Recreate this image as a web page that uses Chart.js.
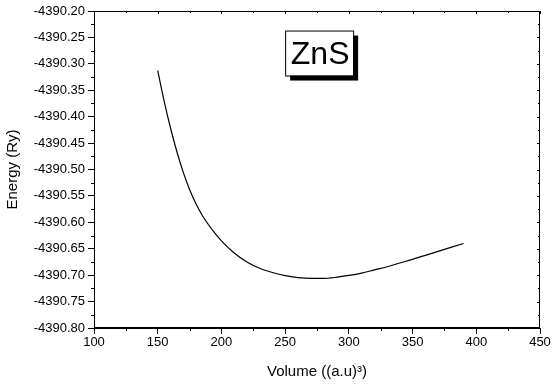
<!DOCTYPE html>
<html>
<head>
<meta charset="utf-8">
<script src="https://cdn.jsdelivr.net/npm/chart.js@4"></script>
<style>
  html, body { margin: 0; padding: 0; background: #fff; }
  #wrap { width: 555px; height: 385px; position: relative; }
</style>
</head>
<body>
<div id="wrap"><canvas id="eos-chart"></canvas></div>
<script>
/* E(V) curve for ZnS */
const volumes  = [150, 155, 160, 165, 170, 175, 180, 185, 190, 195, 200, 210, 220, 230, 240, 250,
                  260, 270, 280, 290, 300, 310, 320, 330, 340, 350, 360, 370, 380, 390];
const energies = [-4390.313, -4390.370, -4390.421, -4390.466, -4390.505, -4390.538, -4390.565, -4390.587,
                  -4390.605, -4390.621, -4390.635, -4390.658, -4390.675, -4390.687, -4390.695, -4390.701,
                  -4390.7045, -4390.706, -4390.706, -4390.704, -4390.7005, -4390.696, -4390.690, -4390.684,
                  -4390.677, -4390.670, -4390.6625, -4390.655, -4390.6475, -4390.640];
const xTicks = [100, 150, 200, 250, 300, 350, 400, 450];
const yTicks = [-4390.80, -4390.75, -4390.70, -4390.65, -4390.60, -4390.55, -4390.50,
                -4390.45, -4390.40, -4390.35, -4390.30, -4390.25, -4390.20];
const label  = 'ZnS';

const FONT = "Arial, 'Liberation Sans', sans-serif";

// frame on top/right, minor ticks, and the boxed label with drop shadow
const frameAndLabel = {
  id: 'frameAndLabel',
  afterDraw(chart) {
    const { ctx, chartArea: a, scales: { x, y } } = chart;
    ctx.save();
    ctx.strokeStyle = '#000';
    ctx.lineWidth = 1;
    ctx.strokeRect(a.left + 0.5, a.top + 0.5, a.right - a.left - 1, a.bottom - a.top - 1);

    ctx.beginPath();
    for (let i = 0; i < xTicks.length - 1; i++) {
      const px = Math.round(x.getPixelForValue((xTicks[i] + xTicks[i + 1]) / 2)) + 0.5;
      ctx.moveTo(px, a.bottom); ctx.lineTo(px, a.bottom + 3);
      ctx.moveTo(px, a.top);    ctx.lineTo(px, a.top + 2);
    }
    xTicks.forEach(v => {
      const px = Math.round(x.getPixelForValue(v)) + 0.5;
      ctx.moveTo(px, a.top); ctx.lineTo(px, a.top + 3);
    });
    for (let i = 0; i < yTicks.length - 1; i++) {
      const py = Math.round(y.getPixelForValue((yTicks[i] + yTicks[i + 1]) / 2)) + 0.5;
      ctx.moveTo(a.left - 3, py); ctx.lineTo(a.left, py);
      ctx.moveTo(a.right - 2, py); ctx.lineTo(a.right, py);
    }
    yTicks.forEach(v => {
      const py = Math.round(y.getPixelForValue(v)) + 0.5;
      ctx.moveTo(a.right - 3, py); ctx.lineTo(a.right, py);
    });
    ctx.stroke();

    // ZnS box
    const bx = x.getPixelForValue(250), by = y.getPixelForValue(-4390.237);
    const bw = 68, bh = 45;
    ctx.fillStyle = '#000';
    ctx.fillRect(bx + 5, by + 5, bw, bh);
    ctx.fillStyle = '#fff';
    ctx.fillRect(bx, by, bw, bh);
    ctx.strokeRect(bx + 0.5, by + 0.5, bw, bh);
    ctx.fillStyle = '#000';
    ctx.font = '32px ' + FONT;
    ctx.textAlign = 'center';
    ctx.textBaseline = 'middle';
    ctx.fillText(label, bx + bw / 2 + 1, by + bh / 2 + 2);
    ctx.restore();
  }
};

new Chart(document.getElementById('eos-chart'), {
  type: 'line',
  data: {
    datasets: [{
      data: volumes.map((v, i) => ({ x: v, y: energies[i] })),
      borderColor: '#000',
      borderWidth: 1.2,
      pointRadius: 0,
      fill: false,
      cubicInterpolationMode: 'monotone'
    }]
  },
  options: {
    responsive: true,
    maintainAspectRatio: false,
    animation: false,
    layout: { padding: { top: 11, right: 15, left: 0, bottom: 0 } },
    plugins: { legend: { display: false }, tooltip: { enabled: false } },
    scales: {
      x: {
        type: 'linear', min: 100, max: 450,
        afterBuildTicks: s => { s.ticks = xTicks.map(v => ({ value: v })); },
        afterFit: s => { s.height = 57; },
        border: { color: '#000', width: 1 },
        grid: { drawOnChartArea: false, tickLength: 6, tickColor: '#000' },
        ticks: { color: '#000', font: { family: FONT, size: 13 }, padding: 1, maxRotation: 0 },
        title: { display: true, text: 'Volume ((a.u)³)', color: '#000', font: { family: FONT, size: 15 }, padding: { top: 3 } }
      },
      y: {
        type: 'linear', min: -4390.80, max: -4390.20,
        afterBuildTicks: s => { s.ticks = yTicks.map(v => ({ value: v })); },
        afterFit: s => { s.width = 94; },
        border: { color: '#000', width: 1 },
        grid: { drawOnChartArea: false, tickLength: 6, tickColor: '#000' },
        ticks: { color: '#000', font: { family: FONT, size: 13 }, padding: 3, callback: v => v.toFixed(2) },
        title: { display: true, text: 'Energy (Ry)', color: '#000', font: { family: FONT, size: 15 }, padding: { bottom: 2 } }
      }
    }
  },
  plugins: [frameAndLabel]
});
</script>
</body>
</html>
